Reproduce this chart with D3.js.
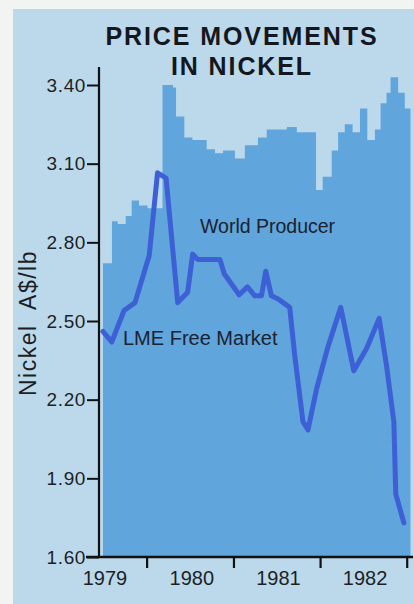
<!DOCTYPE html>
<html>
<head>
<meta charset="utf-8">
<script src="https://cdn.jsdelivr.net/npm/d3@7/dist/d3.min.js"></script>
<style>
  html, body { margin: 0; padding: 0; background: #f2f4f2; }
  svg { display: block; }
  text { font-family: "Liberation Sans", Arial, Helvetica, sans-serif; }
</style>
</head>
<body>
<svg id="chart" width="414" height="604"></svg>
<script>
// World producer price: date of each price change and the new price (A$/lb)
const producerDates = [
  "1979-07-01","1979-08-08","1979-09-01","1979-10-05","1979-10-30","1979-11-30",
  "1980-01-05","1980-03-08","1980-04-21","1980-05-04","1980-06-08","1980-07-12",
  "1980-09-10","1980-10-15","1980-11-18","1981-01-07","1981-02-18","1981-04-14",
  "1981-05-21","1981-08-14","1981-09-25","1981-12-15","1982-01-12","1982-02-19",
  "1982-03-18","1982-04-15","1982-05-18","1982-06-18","1982-07-19","1982-08-20",
  "1982-09-13","1982-10-08","1982-10-25","1982-11-26","1982-12-24","1983-01-17"
];
const producerPrices = [
  2.72, 2.88, 2.87, 2.90, 2.96, 2.94,
  2.93, 3.40, 3.39, 3.28, 3.20, 3.19,
  3.155, 3.14, 3.15, 3.12, 3.17, 3.20,
  3.23, 3.24, 3.22, 3.00, 3.05, 3.15,
  3.22, 3.25, 3.22, 3.31, 3.19, 3.23,
  3.33, 3.37, 3.43, 3.37, 3.31, 3.31
];

// LME free market price (A$/lb)
const lmeDates = [
  "1979-07-01","1979-08-07","1979-09-28","1979-11-13","1980-01-12","1980-02-16",
  "1980-03-23","1980-05-11","1980-06-22","1980-07-13","1980-08-03","1980-11-05",
  "1980-11-23","1981-01-25","1981-03-01","1981-04-01","1981-04-29","1981-05-17",
  "1981-06-10","1981-07-08","1981-08-26","1981-09-16","1981-10-21","1981-11-11",
  "1981-12-17","1982-02-01","1982-03-29","1982-05-23","1982-07-16","1982-09-07",
  "1982-10-08","1982-11-08","1982-11-16","1982-12-20"
];
const lmePrices = [
  2.46, 2.42, 2.54, 2.57, 2.75, 3.065,
  3.045, 2.57, 2.61, 2.755, 2.735, 2.735,
  2.68, 2.60, 2.63, 2.596, 2.596, 2.69,
  2.596, 2.584, 2.552, 2.37, 2.115, 2.085,
  2.24, 2.395, 2.552, 2.31, 2.395, 2.51,
  2.33, 2.115, 1.84, 1.73
];

const yTicks = [1.60, 1.90, 2.20, 2.50, 2.80, 3.10, 3.40];
const yearLabels = ["1979", "1980", "1981", "1982"];
const yearBounds = ["1980", "1981", "1982", "1983"];

const parse = d3.timeParse("%Y-%m-%d");
const producer = producerDates.map((d, i) => ({ date: parse(d), v: producerPrices[i] }));
const lme = lmeDates.map((d, i) => ({ date: parse(d), v: lmePrices[i] }));

const svg = d3.select("#chart");

// panel
svg.append("rect")
  .attr("x", 13).attr("y", 9).attr("width", 401).attr("height", 595)
  .attr("fill", "#bcd9ec");

const x = d3.scaleTime()
  .domain([parse("1979-01-01"), parse("1983-01-01")])
  .range([60, 406.7]);
const y = d3.scaleLinear()
  .domain([1.60, 3.40])
  .range([557, 85]);

// producer price as stepped area
const area = d3.area()
  .x(d => x(d.date))
  .y0(y(1.60))
  .y1(d => y(d.v))
  .curve(d3.curveStepAfter);

svg.append("path")
  .datum(producer)
  .attr("d", area)
  .attr("fill", "#60a5db");

// LME free market line
const line = d3.line()
  .x(d => x(d.date))
  .y(d => y(d.v))
  .curve(d3.curveLinear);

svg.append("path")
  .datum(lme)
  .attr("d", line)
  .attr("fill", "none")
  .attr("stroke", "#3d60d6")
  .attr("stroke-width", 5)
  .attr("stroke-linejoin", "round")
  .attr("stroke-linecap", "round");

// y axis
const yAxis = d3.axisLeft(y)
  .tickValues(yTicks)
  .tickFormat(d3.format(".2f"))
  .tickSize(12)
  .tickPadding(1);

const gy = svg.append("g")
  .attr("transform", "translate(99,0)")
  .call(yAxis);
gy.select(".domain").remove();
gy.selectAll(".tick line").attr("stroke", "#111").attr("stroke-width", 2);
gy.selectAll(".tick text")
  .attr("fill", "#1d1f24")
  .style("font-size", "19px")
  .style("letter-spacing", "0.6px");

svg.append("line")
  .attr("x1", 99).attr("x2", 99)
  .attr("y1", 67).attr("y2", y(1.60) + 1)
  .attr("stroke", "#111").attr("stroke-width", 2.2);

// x axis: ticks at year boundaries, labels centred on each year
const xAxis = d3.axisBottom(x)
  .tickValues(yearBounds.map(d => d3.timeParse("%Y")(d)))
  .tickFormat("")
  .tickSize(11);

const gx = svg.append("g")
  .attr("transform", `translate(0,${y(1.60)})`)
  .call(xAxis);
gx.select(".domain").remove();
gx.selectAll(".tick line").attr("stroke", "#111").attr("stroke-width", 2.2);

svg.append("line")
  .attr("x1", 86).attr("x2", 413)
  .attr("y1", y(1.60)).attr("y2", y(1.60))
  .attr("stroke", "#111").attr("stroke-width", 2.4);

svg.append("g")
  .selectAll("text")
  .data(yearLabels)
  .join("text")
  .attr("x", d => x(d3.timeParse("%Y-%m-%d")(d + "-07-01")) + 2)
  .attr("y", 585)
  .attr("text-anchor", "middle")
  .attr("fill", "#1d1f24")
  .style("font-size", "20px")
  .text(d => d);

// y axis title
svg.append("text")
  .attr("transform", "translate(36,323) rotate(-90)")
  .attr("text-anchor", "middle")
  .attr("fill", "#1d1f24")
  .style("font-size", "23px")
  .style("letter-spacing", "1.5px")
  .style("white-space", "pre")
  .text("Nickel  A$/lb");

// title
const title = svg.append("text")
  .attr("text-anchor", "middle")
  .attr("fill", "#14171d")
  .style("font-size", "25px")
  .style("font-weight", "bold")
  .style("letter-spacing", "1.9px");
title.append("tspan").attr("x", 242).attr("y", 45).text("PRICE MOVEMENTS");
title.append("tspan").attr("x", 242).attr("y", 75).text("IN NICKEL");

// series labels
svg.append("text")
  .attr("x", 200).attr("y", 233)
  .attr("fill", "#1b2230")
  .style("font-size", "19.5px")
  .text("World Producer");

svg.append("text")
  .attr("x", 123).attr("y", 345)
  .attr("fill", "#1b2230")
  .style("font-size", "20px")
  .text("LME Free Market");
</script>
</body>
</html>
